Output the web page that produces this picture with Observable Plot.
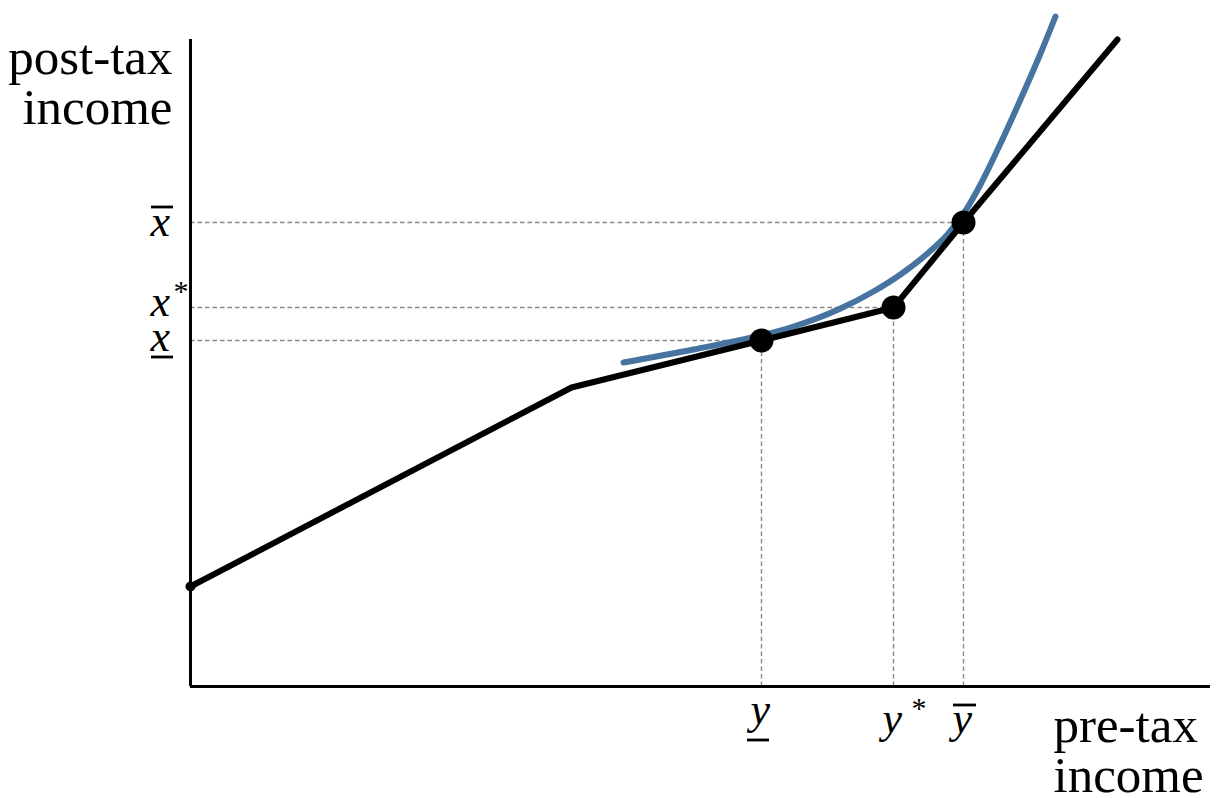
<!DOCTYPE html>
<html>
<head>
<meta charset="utf-8">
<script src="https://cdn.jsdelivr.net/npm/d3@7"></script>
<script src="https://cdn.jsdelivr.net/npm/@observablehq/plot@0.6"></script>
<style>
  html, body { margin: 0; padding: 0; background: #fff; }
  #chart { width: 1218px; height: 798px; }
  #chart svg { overflow: visible; display: block; }
</style>
</head>
<body>
<div id="chart"></div>
<script>
// ---- data (in chart units: pre-tax income on x, post-tax income on y) ----
const schedulePreTax  = [0.00, 3.81, 5.71, 7.03, 7.73, 9.27];
const schedulePostTax = [1.00, 2.99, 3.46, 3.79, 4.64, 6.47];

const curvePreTax  = [4.33, 5.03, 5.70, 6.00, 6.50, 6.83, 7.10, 7.37, 7.57, 7.77, 7.90, 8.10, 8.30, 8.50, 8.65];
const curvePostTax = [3.24, 3.37, 3.51, 3.59, 3.78, 3.95, 4.12, 4.33, 4.52, 4.79, 5.02, 5.43, 5.87, 6.33, 6.70];

const pointPreTax  = [5.71, 7.03, 7.73];
const pointPostTax = [3.46, 3.79, 4.64];

const xTickLetters = ["y", "y", "y"];
const xTickDecos   = ["under", "star", "over"];
const yTickLetters = ["x", "x", "x"];
const yTickDecos   = ["under", "star", "over"];

const yAxisTitle = "post-tax\nincome";
const xAxisTitle = "pre-tax\nincome";

const xMax = 10.2, yMax = 6.47;

// ---- derived tables ----
const schedule = schedulePreTax.map((x, i) => ({x, y: schedulePostTax[i]}));
const curve = curvePreTax.map((x, i) => ({x, y: curvePostTax[i]}));
const points = pointPreTax.map((x, i) => ({x, y: pointPostTax[i]}));
const xLabels = pointPreTax.map((v, i) => ({v, letter: xTickLetters[i], deco: xTickDecos[i]}));
const yLabels = pointPostTax.map((v, i) => ({v, letter: yTickLetters[i], deco: yTickDecos[i]}));

// ---- styles ----
const serif = "'Liberation Serif', 'Times New Roman', serif";
const mathSize = 44;
const titleSize = 51;
const xLabelDy = {under: 6, star: 15, over: 15};
const yLabelDy = {under: -21, star: -23, over: -18};
const dashStyle = {stroke: "#8a8a8a", strokeWidth: 1.4, strokeDasharray: "4.5,3"};

const decos = ["under", "star", "over"];

const plot = Plot.plot({
  width: 1218,
  height: 798,
  marginLeft: 190,
  marginRight: 8,
  marginTop: 39,
  marginBottom: 112,
  x: {domain: [0, xMax], axis: null},
  y: {domain: [0, yMax], axis: null},
  style: {background: "#fff", overflow: "visible"},
  marks: [
    Plot.ruleY(points, {y: "y", x1: 0, x2: "x", ...dashStyle}),
    Plot.ruleX(points, {x: "x", y1: 0, y2: "y", ...dashStyle}),
    Plot.ruleX([0], {x: d => d, y1: 0, y2: yMax, stroke: "black", strokeWidth: 3}),
    Plot.ruleY([0], {y: d => d, x1: 0, x2: xMax, stroke: "black", strokeWidth: 3}),
    Plot.line(curve, {x: "x", y: "y", curve: "monotone-x", stroke: "#4673a0", strokeWidth: 6}),
    Plot.line(schedule, {x: "x", y: "y", stroke: "black", strokeWidth: 6, strokeLinejoin: "round"}),
    Plot.dot(schedule.slice(0, 1), {x: "x", y: "y", r: 5, fill: "black"}),
    Plot.dot(points, {x: "x", y: "y", r: 12, fill: "black"}),
    ...decos.map(k => Plot.text(xLabels, {
      filter: d => d.deco === k, x: "v", y: d => 0, text: "letter",
      textAnchor: "start", lineAnchor: "top", dx: -11, dy: xLabelDy[k],
      fontSize: mathSize, fontStyle: "italic", fontFamily: serif, fill: "black"
    })),
    ...decos.map(k => Plot.text(yLabels, {
      filter: d => d.deco === k, x: d => 0, y: "v", text: "letter",
      textAnchor: "start", lineAnchor: "top", dx: -40, dy: yLabelDy[k],
      fontSize: mathSize, fontStyle: "italic", fontFamily: serif, fill: "black"
    })),
    Plot.text(xLabels, {
      filter: d => d.deco === "star", x: "v", y: d => 0, text: d => "*",
      textAnchor: "start", lineAnchor: "middle", dx: 18, dy: 22,
      fontSize: 30, fontFamily: serif, fill: "black"
    }),
    Plot.text(yLabels, {
      filter: d => d.deco === "star", x: d => 0, y: "v", text: d => "*",
      textAnchor: "start", lineAnchor: "middle", dx: -17, dy: -16,
      fontSize: 30, fontFamily: serif, fill: "black"
    }),
    Plot.text([yAxisTitle], {
      frameAnchor: "top-left", dx: -18, dy: -1, textAnchor: "end", lineAnchor: "top",
      lineHeight: 0.98, fontSize: titleSize, fontFamily: serif, fill: "black"
    }),
    Plot.text([xAxisTitle], {
      frameAnchor: "bottom-right", dx: -157, dy: 20, textAnchor: "start", lineAnchor: "top",
      lineHeight: 0.98, fontSize: titleSize, fontFamily: serif, fill: "black"
    })
  ]
});

document.getElementById("chart").appendChild(plot);

// ---- bar decorations (overline / underline) placed with the plot's scales ----
const sx = plot.scale("x"), sy = plot.scale("y");
const svg = d3.select(plot);
const g = svg.append("g").attr("stroke", "black").attr("stroke-width", 2.8);
xLabels.forEach(d => {
  const px = sx.apply(d.v), py = sy.apply(0);
  if (d.deco === "under") g.append("line").attr("x1", px - 14).attr("x2", px + 8).attr("y1", py + 54).attr("y2", py + 54);
  if (d.deco === "over") g.append("line").attr("x1", px - 10).attr("x2", px + 13).attr("y1", py + 19).attr("y2", py + 19);
});
yLabels.forEach(d => {
  const px = sx.apply(0), py = sy.apply(d.v);
  if (d.deco === "under") g.append("line").attr("x1", px - 39).attr("x2", px - 17).attr("y1", py + 17).attr("y2", py + 17);
  if (d.deco === "over") g.append("line").attr("x1", px - 39).attr("x2", px - 17).attr("y1", py - 15).attr("y2", py - 15);
});
</script>
</body>
</html>
